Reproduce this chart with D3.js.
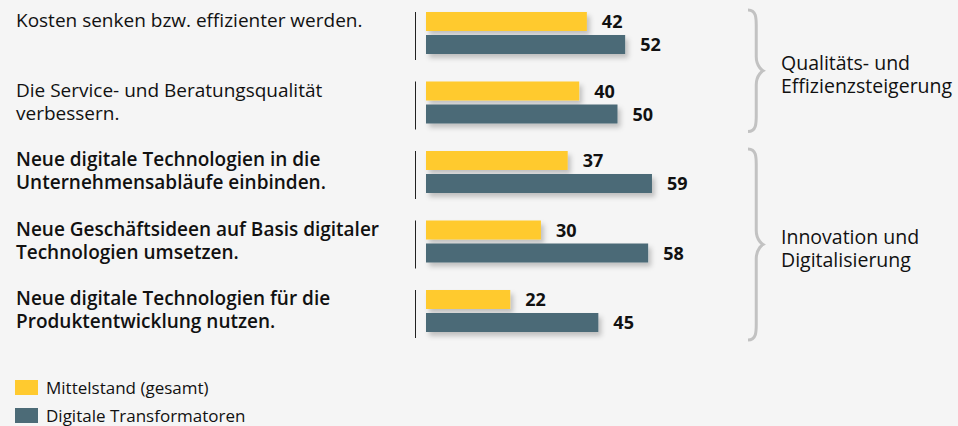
<!DOCTYPE html>
<html>
<head>
<meta charset="utf-8">
<script src="https://cdn.jsdelivr.net/npm/d3@7"></script>
<style>
  html, body { margin: 0; padding: 0; background: #f5f5f5; }
  svg { display: block; font-family: "Open Sans", sans-serif; }
</style>
</head>
<body>
<svg id="chart" width="958" height="426"></svg>
<script>
// Daten
let categories = [
    ["Kosten senken bzw. effizienter werden."],
    ["Die Service- und Beratungsqualität", "verbessern."],
    ["Neue digitale Technologien in die", "Unternehmensabläufe einbinden."],
    ["Neue Geschäftsideen auf Basis digitaler", "Technologien umsetzen."],
    ["Neue digitale Technologien für die", "Produktentwicklung nutzen."]
];
let boldLabel = [false, false, true, true, true];
let mittelstand = [42, 40, 37, 30, 22];
let transformatoren = [52, 50, 59, 58, 45];
let seriesNames = ["Mittelstand (gesamt)", "Digitale Transformatoren"];
let groups = [
    {name: ["Qualitäts- und", "Effizienzsteigerung"], from: 0, to: 1},
    {name: ["Innovation und", "Digitalisierung"], from: 2, to: 4}
];

let colors = ["#ffca2f", "#4c6b77"];
let barH = 19;
let barGap = 4;

let svg = d3.select('#chart');

// Schatten
let filter = svg.append('defs').append('filter')
    .attr('id', 'shadow')
    .attr('x', '-10%').attr('y', '-50%')
    .attr('width', '130%').attr('height', '220%');
filter.append('feDropShadow')
    .attr('dx', 3).attr('dy', 4)
    .attr('stdDeviation', 2.5)
    .attr('flood-color', '#000')
    .attr('flood-opacity', 0.22);

let x = d3.scaleLinear()
    .domain([0, 60])
    .range([426, 426 + 60 * 3.83]);

let y = d3.scaleBand()
    .domain(d3.range(categories.length))
    .range([12, 12 + 69.5 * categories.length])
    .padding(0);

// Kategorie-Texte
let label = svg.selectAll('text.cat')
    .data(categories)
    .enter().append('text')
    .attr('class', 'cat')
    .attr('x', 16)
    .attr('y', (d, i) => y(i) + 15)
    .style('font-size', '19px')
    .style('font-weight', (d, i) => boldLabel[i] ? 600 : 400)
    .style('fill', '#111');
label.selectAll('tspan')
    .data(d => d)
    .enter().append('tspan')
    .attr('x', 16)
    .attr('dy', (d, i) => i === 0 ? 0 : 23)
    .text(d => d);

// senkrechte Linien
svg.selectAll('line.sep')
    .data(categories)
    .enter().append('line')
    .attr('class', 'sep')
    .attr('x1', 415.5).attr('x2', 415.5)
    .attr('y1', (d, i) => y(i))
    .attr('y2', (d, i) => y(i) + 48)
    .attr('stroke', '#222')
    .attr('stroke-width', 1);

// Balken
let series = [mittelstand, transformatoren];
series.forEach(function (values, s) {
    svg.selectAll('rect.s' + s)
        .data(values)
        .enter().append('rect')
        .attr('class', 's' + s)
        .attr('x', x(0))
        .attr('y', (d, i) => y(i) + s * (barH + barGap))
        .attr('width', d => x(d) - x(0))
        .attr('height', barH)
        .attr('fill', colors[s])
        .attr('filter', 'url(#shadow)');

    svg.selectAll('text.v' + s)
        .data(values)
        .enter().append('text')
        .attr('class', 'v' + s)
        .attr('x', d => x(d) + 15)
        .attr('y', (d, i) => y(i) + s * (barH + barGap) + 16)
        .style('font-size', '18px')
        .style('font-weight', 700)
        .style('fill', '#111')
        .text(d => d);
});

// geschweifte Klammern
function brace(x0, y0, y1, w) {
    let m = (y0 + y1) / 2;
    let xs = x0 + w * 0.55;
    return `M${x0},${y0} C${xs},${y0} ${xs},${y0 + 8} ${xs},${y0 + 16}` +
        ` L${xs},${m - 14} C${xs},${m - 4} ${x0 + w},${m} ${x0 + w},${m}` +
        ` C${x0 + w},${m} ${xs},${m + 4} ${xs},${m + 14}` +
        ` L${xs},${y1 - 16} C${xs},${y1 - 8} ${xs},${y1} ${x0},${y1}`;
}

svg.selectAll('path.brace')
    .data(groups)
    .enter().append('path')
    .attr('class', 'brace')
    .attr('d', d => brace(748, y(d.from) - 2, y(d.to) + 50, 15))
    .attr('fill', 'none')
    .attr('stroke', '#c2c2c2')
    .attr('stroke-width', 3);

let gText = svg.selectAll('text.grp')
    .data(groups)
    .enter().append('text')
    .attr('class', 'grp')
    .attr('x', 781)
    .attr('y', d => (y(d.from) - 2 + y(d.to) + 50) / 2 - 1)
    .style('font-size', '19.5px')
    .style('fill', '#111');
gText.selectAll('tspan')
    .data(d => d.name)
    .enter().append('tspan')
    .attr('x', 781)
    .attr('dy', (d, i) => i === 0 ? 0 : 23)
    .text(d => d);

// Legende
let legend = svg.selectAll('g.legend')
    .data(seriesNames)
    .enter().append('g')
    .attr('class', 'legend')
    .attr('transform', (d, i) => `translate(15, ${380 + i * 28})`);
legend.append('rect')
    .attr('width', 23).attr('height', 15)
    .attr('fill', (d, i) => colors[i]);
legend.append('text')
    .attr('x', 31).attr('y', 14)
    .style('font-size', '17px')
    .style('fill', '#111')
    .text(d => d);
</script>
</body>
</html>
